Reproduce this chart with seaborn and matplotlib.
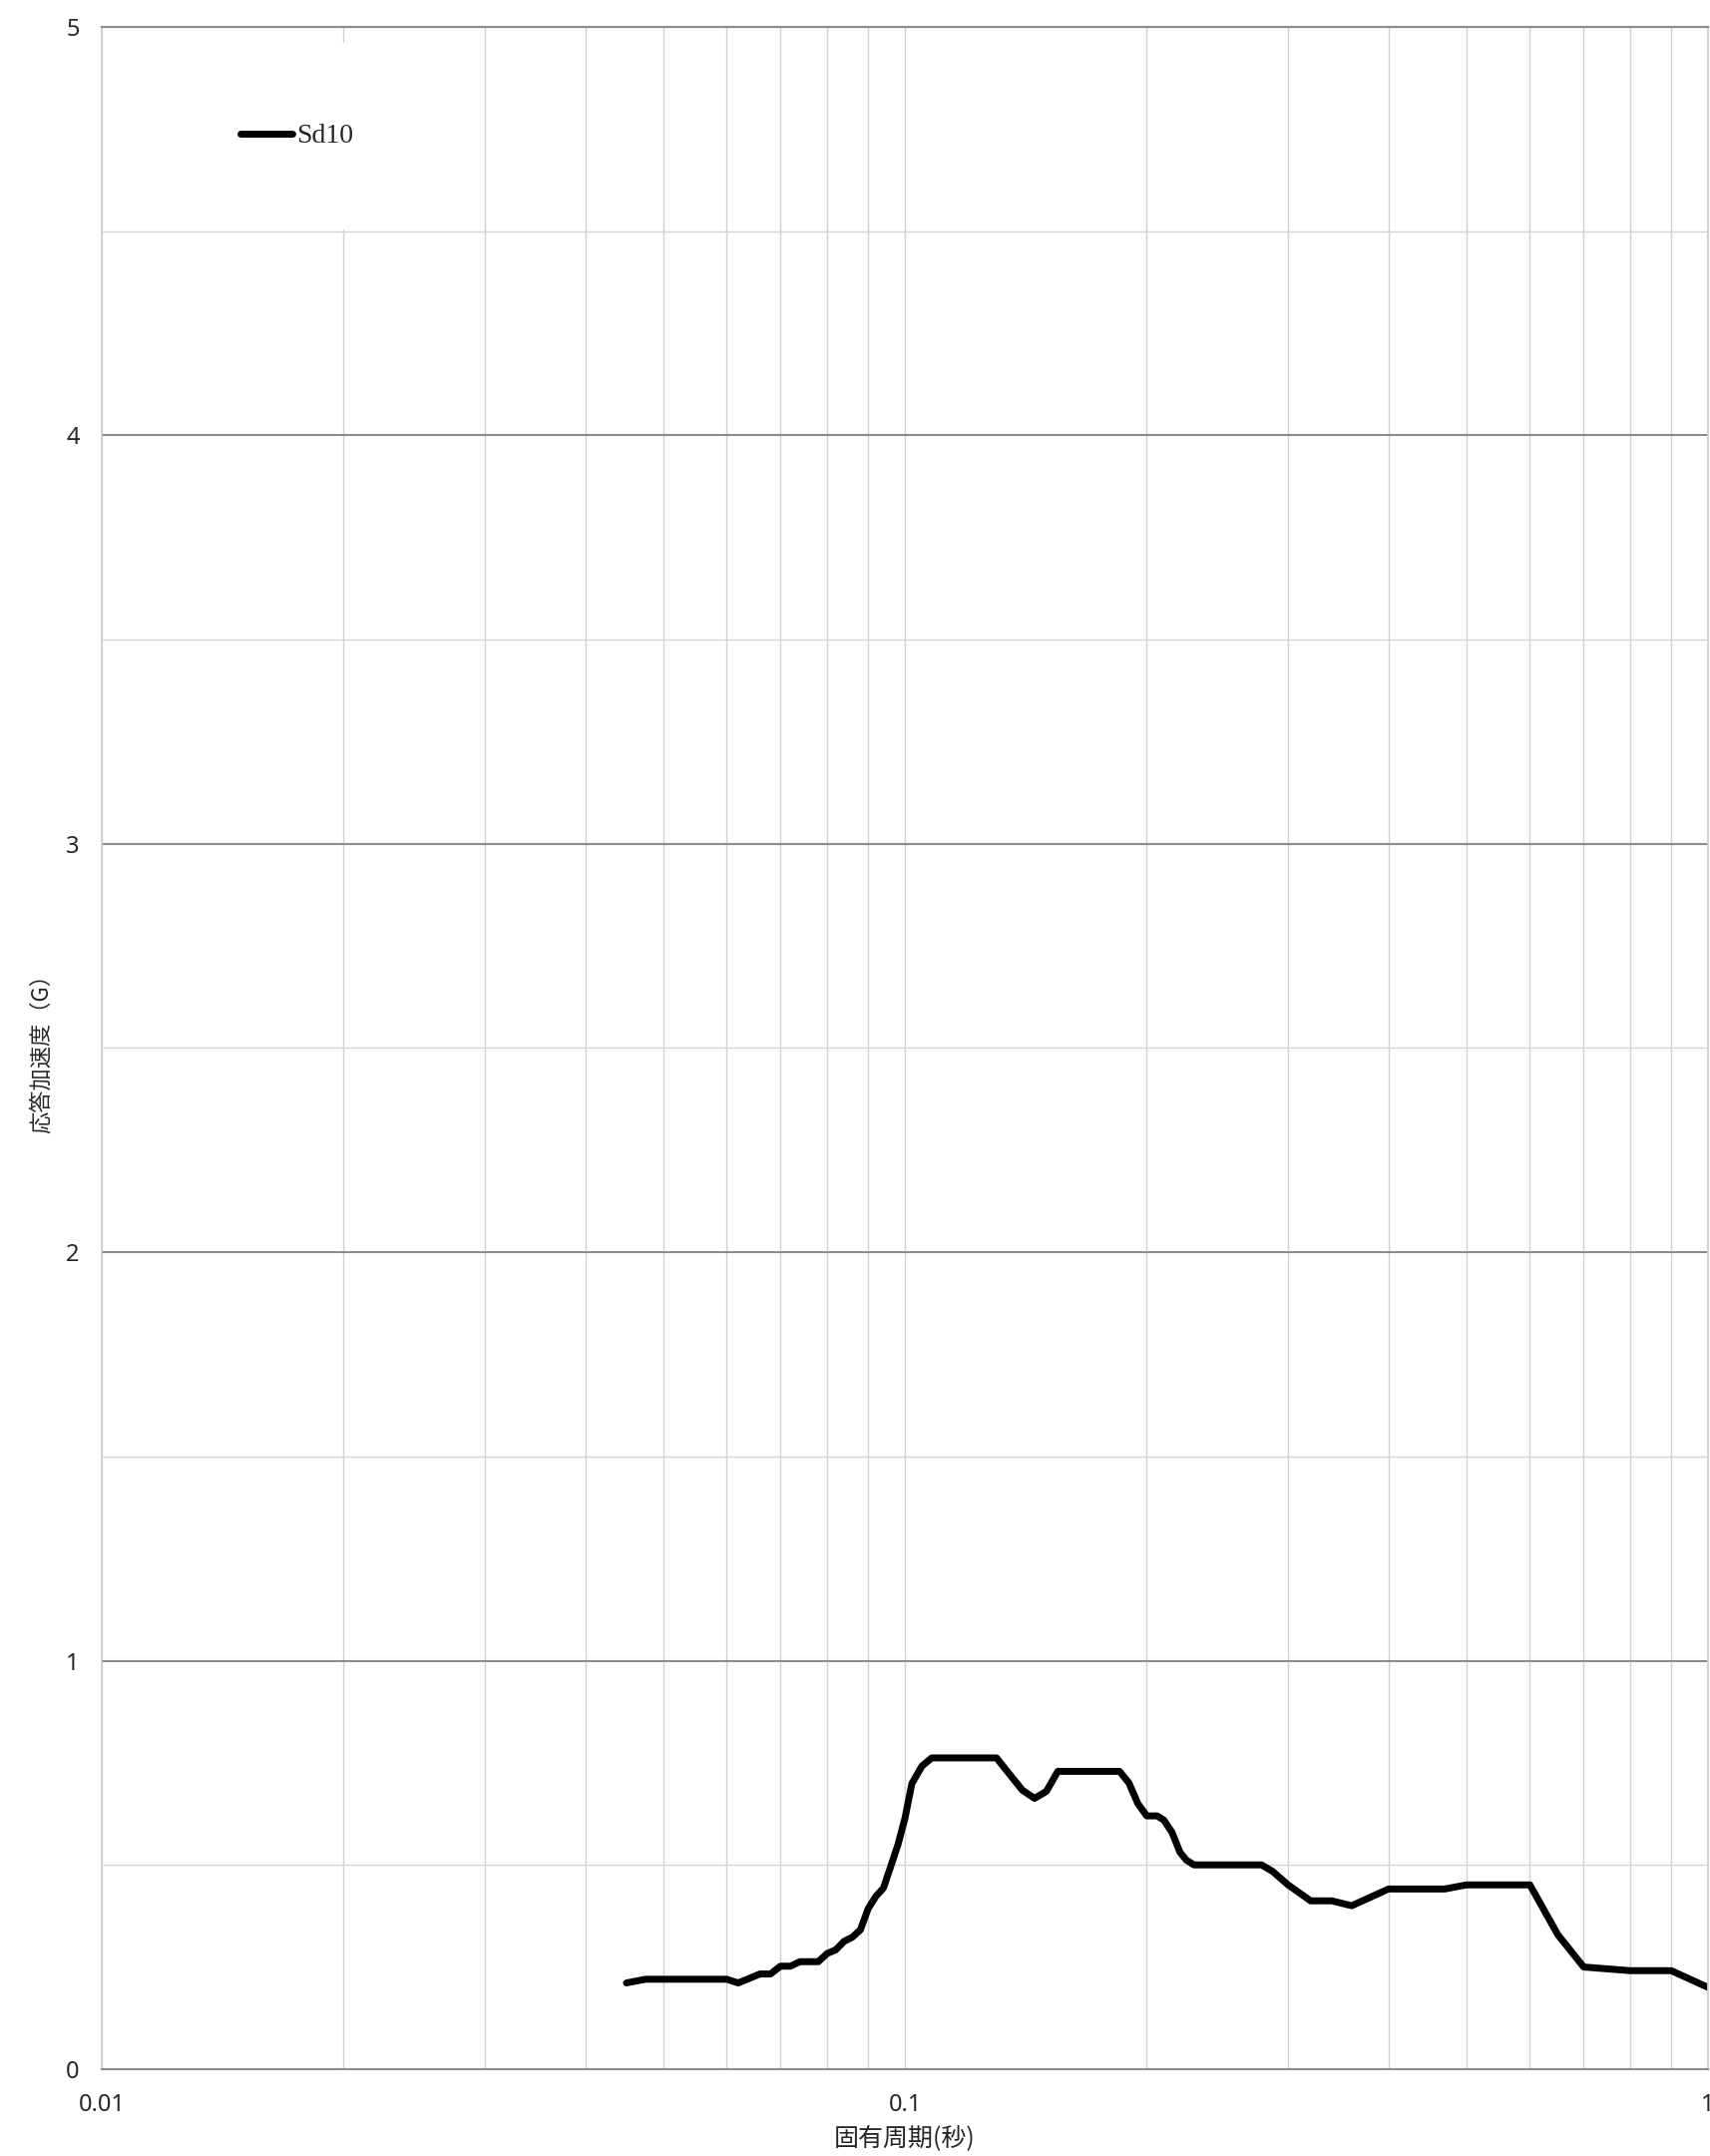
import numpy as np
import pandas as pd
import matplotlib
matplotlib.use('Agg')
import matplotlib.pyplot as plt
import matplotlib.ticker as mticker
import seaborn as sns

sns.set_style('white')
plt.rcParams['font.family'] = ['Noto Sans', 'Noto Sans CJK JP', 'DejaVu Sans']

# response spectrum Sd10 (period in s, acceleration in G)
period = [0.045, 0.0475, 0.06, 0.062, 0.066, 0.068, 0.07, 0.072, 0.074, 0.078,
          0.08, 0.082, 0.084, 0.086, 0.088, 0.09, 0.092, 0.094, 0.096, 0.098,
          0.1, 0.102, 0.105, 0.108, 0.13, 0.14, 0.145, 0.15, 0.155, 0.185,
          0.19, 0.195, 0.2, 0.206, 0.21, 0.215, 0.22, 0.224, 0.229, 0.278,
          0.287, 0.3, 0.32, 0.34, 0.36, 0.4, 0.47, 0.5, 0.6, 0.65,
          0.7, 0.8, 0.9, 1.0]
accel = [0.211, 0.22, 0.22, 0.211, 0.233, 0.233, 0.252, 0.252, 0.263, 0.263,
         0.283, 0.292, 0.313, 0.323, 0.341, 0.393, 0.423, 0.443, 0.496, 0.549,
         0.614, 0.699, 0.742, 0.762, 0.762, 0.683, 0.663, 0.68, 0.729, 0.729,
         0.701, 0.65, 0.62, 0.62, 0.61, 0.58, 0.531, 0.512, 0.5, 0.5,
         0.484, 0.451, 0.412, 0.412, 0.40, 0.441, 0.441, 0.451, 0.451, 0.329,
         0.25, 0.241, 0.241, 0.20]
series_name = 'Sd10'
x_ticks = [0.01, 0.1, 1]
x_ticklabels = ['0.01', '0.1', '1']
y_ticks = [0, 1, 2, 3, 4, 5]

df = pd.DataFrame({'period': period, 'accel': accel})

fig = plt.figure(figsize=(17.15, 21.61), dpi=100)
ax = fig.add_axes([0.0595, 0.0403, 0.9388, 0.9472])

sns.lineplot(data=df, x='period', y='accel', ax=ax, color='black', lw=5.0,
             label=series_name, solid_joinstyle='round', solid_capstyle='round')

ax.set_xscale('log')
ax.set_xlim(0.01, 1)
ax.set_ylim(0, 5)

ax.set_xticks(x_ticks)
ax.set_xticklabels(x_ticklabels)
ax.xaxis.set_minor_locator(mticker.LogLocator(base=10, subs=np.arange(2, 10)))
ax.xaxis.set_minor_formatter(mticker.NullFormatter())
ax.set_yticks(y_ticks)
ax.yaxis.set_minor_locator(mticker.MultipleLocator(0.5))

ax.tick_params(axis='x', which='major', direction='out', length=6, width=1.2,
               color='#8c8c8c', labelsize=17, pad=11)
ax.tick_params(axis='x', which='minor', direction='out', length=4.5, width=1.0,
               color='#a6a6a6')
ax.tick_params(axis='y', which='both', length=0, labelsize=17, pad=16)

ax.grid(which='major', axis='y', color='#8c8c8c', lw=1.5)
ax.grid(which='minor', axis='y', color='#d4d4d4', lw=1.0)
ax.grid(which='both', axis='x', color='#d0d0d0', lw=1.0)
ax.set_axisbelow(True)

for side in ['left', 'right']:
    ax.spines[side].set_color('#cfcfcf')
    ax.spines[side].set_linewidth(1.3)
ax.spines['bottom'].set_color('#8c8c8c')
ax.spines['bottom'].set_linewidth(1.5)
ax.spines['top'].set_color('#8c8c8c')
ax.spines['top'].set_linewidth(1.5)

ax.set_xlabel('固有周期(秒)', fontsize=18, family=['Noto Sans CJK JP'], labelpad=7)
ax.set_ylabel('応答加速度（G）', fontsize=16, family=['Noto Sans CJK JP', 'Noto Sans'])
ax.yaxis.label.set_va('center')
ax.yaxis.set_label_coords(-0.038, 0.5)

leg = ax.legend(loc='upper left', bbox_to_anchor=(0.036, 0.992), borderaxespad=0,
                frameon=True, fancybox=False, framealpha=1, facecolor='white',
                edgecolor='white', borderpad=2.9, handlelength=1.9,
                handletextpad=0.15, prop={'family': 'Liberation Serif', 'size': 20})
leg.get_frame().set_linewidth(0)

fig.savefig('out.png', dpi=100)
